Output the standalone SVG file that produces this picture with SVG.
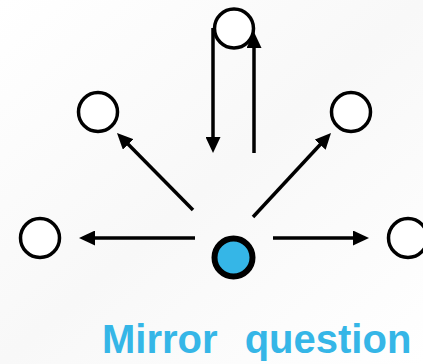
<svg xmlns="http://www.w3.org/2000/svg" width="423" height="364" viewBox="0 0 423 364">
  <defs>
    <linearGradient id="bg" x1="0" y1="0" x2="1" y2="1">
      <stop offset="0" stop-color="#ffffff"/>
      <stop offset="0.5" stop-color="#f8f8f8"/>
      <stop offset="1" stop-color="#ffffff"/>
    </linearGradient>
    <marker id="head" markerUnits="userSpaceOnUse" markerWidth="16" markerHeight="15" refX="6" refY="7.5" orient="auto">
      <path d="M0,0 L16,7.5 L0,15 z" fill="#000"/>
    </marker>
  </defs>
  <style>
    .node { fill: #fff; stroke: #000; stroke-width: 3.5; }
    .start { fill: #35b6e7; stroke: #000; stroke-width: 6; }
    .edge { fill: none; stroke: #000; stroke-width: 3.5; marker-end: url(#head); }
    .label { font-family: "Liberation Sans", Arial, sans-serif; font-weight: bold; font-size: 40px; fill: #35b6e7; }
  </style>
  <rect width="423" height="364" fill="url(#bg)"/>

  <g id="connectors">
    <line class="edge" x1="213" y1="28" x2="213" y2="143"/>
    <line class="edge" x1="254" y1="153" x2="254" y2="42"/>
    <line class="edge" x1="195" y1="238" x2="89" y2="238"/>
    <line class="edge" x1="273" y1="238" x2="359" y2="238"/>
    <line class="edge" x1="193" y1="210" x2="124" y2="140.1"/>
    <line class="edge" x1="253" y1="217" x2="324.2" y2="140.3"/>
  </g>

  <g id="node-top"><circle class="node" cx="234" cy="28.5" r="19.5"/></g>
  <g id="node-upper-left"><circle class="node" cx="98" cy="112" r="19.5"/></g>
  <g id="node-upper-right"><circle class="node" cx="351" cy="112" r="19.5"/></g>
  <g id="node-left"><circle class="node" cx="40" cy="238" r="19.5"/></g>
  <g id="node-right"><circle class="node" cx="408" cy="238" r="19.5"/></g>
  <g id="node-center"><circle class="start" cx="233.5" cy="257.5" r="19"/></g>

  <g id="caption">
    <text class="label" x="102" y="353" word-spacing="16">Mirror question</text>
  </g>
</svg>
